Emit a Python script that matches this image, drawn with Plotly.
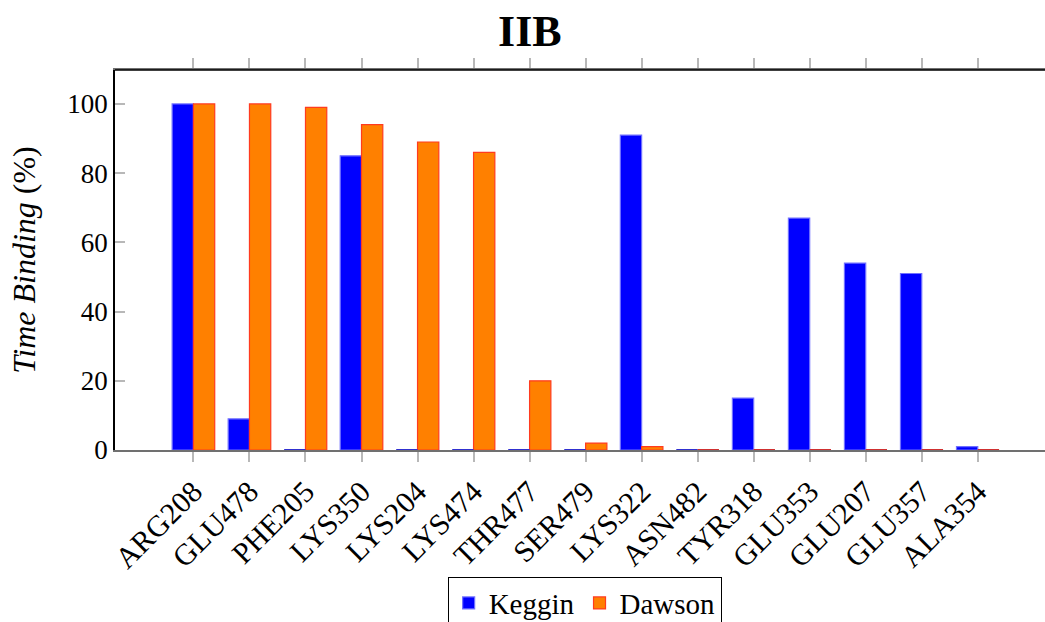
import plotly.graph_objects as go

residues = ["ARG208", "GLU478", "PHE205", "LYS350", "LYS204", "LYS474", "THR477",
            "SER479", "LYS322", "ASN482", "TYR318", "GLU353", "GLU207", "GLU357", "ALA354"]
keggin = [100, 9, 0, 85, 0, 0, 0, 0, 91, 0, 15, 67, 54, 51, 1]
dawson = [100, 100, 99, 94, 89, 86, 20, 2, 1, 0, 0, 0, 0, 0, 0]
y_ticks = [0, 20, 40, 60, 80, 100]

BAR_W = 0.38
FONT = "Liberation Serif"
pos = list(range(len(residues)))

fig = go.Figure()

fig.add_trace(go.Bar(
    x=pos, y=keggin, name="Keggin", width=BAR_W, offset=-BAR_W,
    marker=dict(color="#0000ff", line=dict(color="#7070ff", width=1.2)),
))
fig.add_trace(go.Bar(
    x=pos, y=dawson, name="Dawson", width=BAR_W, offset=0,
    marker=dict(color="#ff8000", line=dict(color="#ff3b1f", width=1.2)),
))


def zero_segments(values, left):
    """Flat strokes marking zero-height bars."""
    xs, ys = [], []
    for i, v in enumerate(values):
        if v == 0:
            x0 = i - BAR_W if left else i
            xs += [x0, x0 + BAR_W, None]
            ys += [0, 0, None]
    return xs, ys


for vals, left, col in [(keggin, True, "#3030d0"), (dawson, False, "#d03030")]:
    xs, ys = zero_segments(vals, left)
    fig.add_trace(go.Scatter(x=xs, y=ys, mode="lines", line=dict(color=col, width=2),
                             showlegend=False, hoverinfo="skip", cliponaxis=False))

fig.update_layout(
    width=1045, height=622,
    margin=dict(l=115, r=0, t=70, b=172, autoexpand=False),
    paper_bgcolor="white", plot_bgcolor="white",
    font=dict(family=FONT, size=27, color="black"),
    title=dict(text="<b>IIB</b>", x=0.507, xanchor="center",
               y=1 - 31 / 622, yanchor="middle", yref="container",
               font=dict(family=FONT, size=44, color="black")),
    barmode="overlay",
    showlegend=True,
    legend=dict(orientation="h", x=0.505, xanchor="center", y=-0.333, yanchor="top",
                bordercolor="black", borderwidth=1, bgcolor="white",
                font=dict(family=FONT, size=29, color="black"),
                itemwidth=30),
)

fig.update_xaxes(
    range=[-1.40, 15.20], tickmode="array", tickvals=pos, ticktext=residues,
    tickangle=-45, ticks="outside", ticklen=10, tickwidth=2, tickcolor="#b8b8b8",
    showline=True, linecolor="#707070", linewidth=2, mirror="ticks",
    showgrid=False, zeroline=False, automargin=False,
    tickfont=dict(family=FONT, size=30),
)
fig.update_yaxes(
    range=[0, 109.8], tickmode="array", tickvals=y_ticks,
    ticks="inside", ticklen=10, tickwidth=2, tickcolor="#b8b8b8",
    showline=True, linecolor="black", linewidth=1.5,
    showgrid=False, zeroline=False, automargin=False,
    tickfont=dict(family=FONT, size=27),
    title=dict(text="<i>Time Binding</i> (%)", font=dict(family=FONT, size=32), standoff=22),
)

# Black frame on the top edge
fig.add_shape(type="line", xref="paper", yref="paper", x0=0, x1=1, y0=1, y1=1,
              line=dict(color="black", width=1.5), layer="above")

fig.write_html("out.html")
